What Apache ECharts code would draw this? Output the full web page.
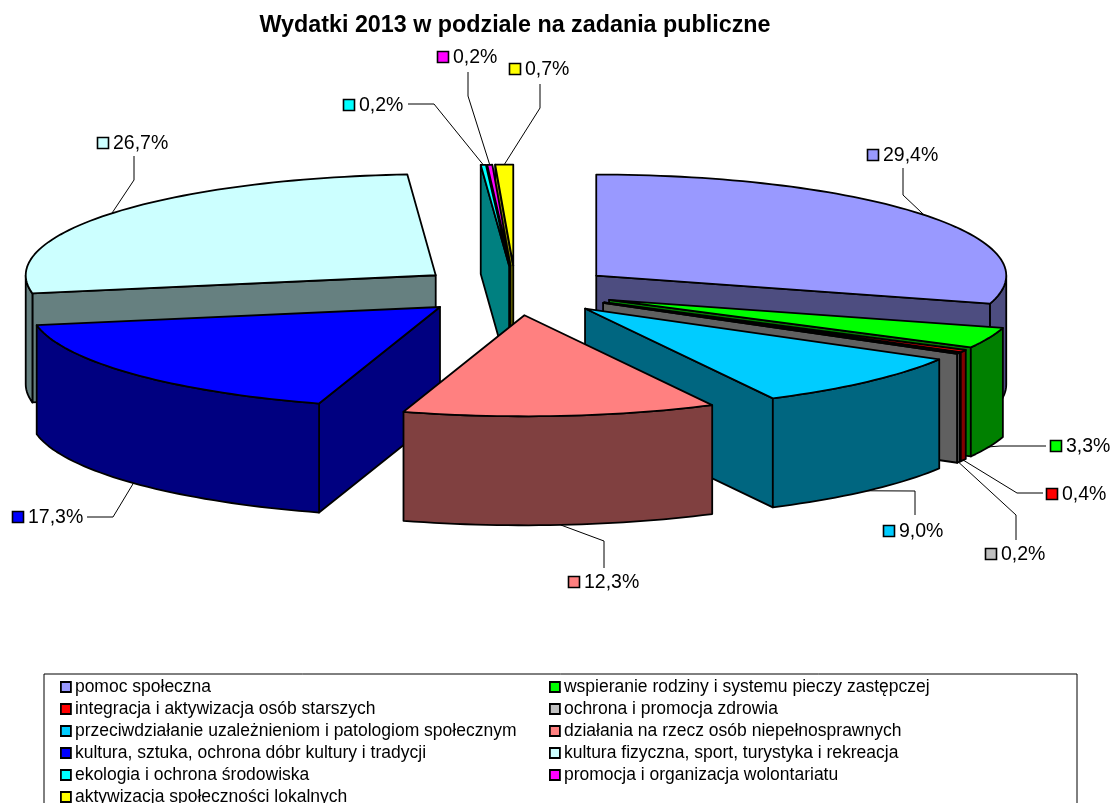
<!DOCTYPE html>
<html lang="pl">
<head>
    <meta charset="UTF-8">
    <title>Wydatki 2013</title>
    <script src="https://cdn.jsdelivr.net/npm/echarts@6/dist/echarts.min.js"></script>
    <style>
        html, body { margin: 0; padding: 0; background: #fff; overflow: hidden; }
        #chartmain { width: 1120px; height: 803px; }
    </style>
</head>
<body>
<div id="chartmain"></div>
<script>
    var chartTitle = 'Wydatki 2013 w podziale na zadania publiczne';
    var categories = [
        'pomoc społeczna',
        'wspieranie rodziny i systemu pieczy zastępczej',
        'integracja i aktywizacja osób starszych',
        'ochrona i promocja zdrowia',
        'przeciwdziałanie uzależnieniom i patologiom społecznym',
        'działania na rzecz osób niepełnosprawnych',
        'kultura, sztuka, ochrona dóbr kultury i tradycji',
        'kultura fizyczna, sport, turystyka i rekreacja',
        'ekologia i ochrona środowiska',
        'promocja i organizacja wolontariatu',
        'aktywizacja społeczności lokalnych'
    ];
    var shares = [29.4, 3.3, 0.4, 0.2, 9.0, 12.3, 17.3, 26.7, 0.2, 0.2, 0.7];
    var topColors = ['#9999FF', '#00FF00', '#FF0000', '#C0C0C0', '#00CCFF', '#FF8080', '#0000FF', '#CCFFFF', '#00FFFF', '#FF00FF', '#FFFF00'];
    var sideColors = ['#4D4D80', '#008000', '#800000', '#606060', '#006680', '#804040', '#000080', '#668080', '#008080', '#800080', '#808000'];

    // kwadrat opisu i koniec linii odniesienia, polozenie dobrane recznie
    var labelKeys = [[873, 155], [1056, 446], [1052, 494], [991, 554], [889, 531], [574, 582], [18, 517], [103, 143], [349, 105], [443, 57], [515, 69]];
    var labelElbows = [[903, 195], [1000, 446], [1017, 493], [1016, 515], [915, 491], [604, 541], [113, 517], [134, 180], [434, 104], [468, 96], [540, 108]];
    var labelEnds = [[903, 168], [1046, 446], [1043, 493], [1016, 540], [915, 515], [604, 568], [87, 517], [134, 156], [408, 104], [468, 72], [540, 84]];

    var CX = 515.5, CY = 290.5, RX = 410, RY = 101, EXPLODE = 101, DEPTH = 109;
    var SQUASH = RY / RX;
    var LINE = 1.8;

    function dirX(deg) { return Math.sin(deg * Math.PI / 180); }
    function dirY(deg) { return -Math.cos(deg * Math.PI / 180); }

    function sliceGeometry(index) {
        var before = 0;
        for (var i = 0; i < index; i++) before += shares[i];
        var total = shares.reduce(function (a, b) { return a + b; }, 0);
        var start = before / total * 360;
        var end = (before + shares[index]) / total * 360;
        var mid = (start + end) / 2;
        return {
            start: start, end: end, mid: mid,
            ax: CX + EXPLODE * dirX(mid),
            ay: CY + EXPLODE * SQUASH * dirY(mid)
        };
    }

    function rim(g, deg, drop) {
        return [g.ax + RX * dirX(deg), g.ay + RY * dirY(deg) + (drop || 0)];
    }

    function arcPoints(g, from, to, drop) {
        var pts = [];
        var steps = Math.max(2, Math.ceil(Math.abs(to - from) / 1.5));
        for (var i = 0; i <= steps; i++) {
            pts.push(rim(g, from + (to - from) * i / steps, drop));
        }
        return pts;
    }

    function poly(points, fill) {
        return {
            type: 'polygon',
            shape: { points: points },
            style: { fill: fill, stroke: '#000', lineWidth: LINE, lineJoin: 'round' }
        };
    }

    function radialFace(g, deg, fill) {
        var p = rim(g, deg);
        return poly([[g.ax, g.ay], p, [p[0], p[1] + DEPTH], [g.ax, g.ay + DEPTH]], fill);
    }

    function renderSlice(index) {
        return function () {
            var g = sliceGeometry(index);
            var children = [];
            // tylko sciany widoczne od strony patrzacego
            if (dirX(g.start) < 0) children.push(radialFace(g, g.start, sideColors[index]));
            if (dirX(g.end) > 0) children.push(radialFace(g, g.end, sideColors[index]));
            var wallFrom = Math.max(g.start, 90), wallTo = Math.min(g.end, 270);
            if (wallTo > wallFrom) {
                var wall = arcPoints(g, wallFrom, wallTo, 0).concat(arcPoints(g, wallTo, wallFrom, DEPTH));
                children.push(poly(wall, sideColors[index]));
            }
            children.push(poly([[g.ax, g.ay]].concat(arcPoints(g, g.start, g.end, 0)), topColors[index]));
            return { type: 'group', children: children };
        };
    }

    function renderLabel(params) {
        var i = params.dataIndex;
        var g = sliceGeometry(i);
        var start = rim(g, g.mid, dirY(g.mid) > 0 ? DEPTH : 0);
        var key = labelKeys[i];
        return {
            type: 'group',
            children: [
                {
                    type: 'polyline',
                    shape: { points: [start, labelElbows[i], labelEnds[i]] },
                    style: { fill: null, stroke: '#000', lineWidth: 1 }
                },
                {
                    type: 'rect',
                    shape: { x: key[0] - 5.5, y: key[1] - 5.5, width: 11, height: 11 },
                    style: { fill: topColors[i], stroke: '#000', lineWidth: 1.6 }
                },
                {
                    type: 'text',
                    style: {
                        x: key[0] + 10, y: key[1] + 1,
                        text: shares[i].toFixed(1).replace('.', ',') + '%',
                        fill: '#000',
                        font: '19.5px "Liberation Sans"',
                        textAlign: 'left',
                        textVerticalAlign: 'middle'
                    }
                }
            ]
        };
    }

    // kolejnosc rysowania: od tylnych wycinkow do przednich
    var drawOrder = categories.map(function (c, i) { return i; }).sort(function (a, b) {
        return dirY(sliceGeometry(a).mid) - dirY(sliceGeometry(b).mid);
    });

    var seriesList = drawOrder.map(function (i) {
        return {
            name: categories[i],
            type: 'custom',
            coordinateSystem: 'none',
            silent: true,
            animation: false,
            itemStyle: { color: topColors[i] },
            renderItem: renderSlice(i),
            data: [[shares[i]]]
        };
    });
    seriesList.push({
        name: 'opisy',
        type: 'custom',
        coordinateSystem: 'none',
        silent: true,
        animation: false,
        renderItem: renderLabel,
        data: shares.map(function (v) { return [v]; })
    });

    function legendColumn(left, top, indexes) {
        return {
            orient: 'vertical',
            left: left,
            top: top,
            padding: 0,
            itemGap: 0,
            itemWidth: 10,
            itemHeight: 10,
            icon: 'rect',
            selectedMode: false,
            itemStyle: { borderColor: '#000', borderWidth: 1.8 },
            textStyle: {
                fontFamily: 'Liberation Sans',
                fontSize: 17.5,
                color: '#000',
                lineHeight: 22,
                padding: [0, 0, 0, -1]
            },
            data: indexes.map(function (i) { return categories[i]; })
        };
    }

    var myChart = echarts.init(document.getElementById('chartmain'), null, { renderer: 'canvas' });
    myChart.setOption({
        animation: false,
        backgroundColor: '#fff',
        title: {
            text: chartTitle,
            left: 515,
            top: 14,
            textAlign: 'center',
            padding: 0,
            textStyle: { fontFamily: 'Liberation Sans', fontSize: 23.3, fontWeight: 'bold', color: '#000' }
        },
        legend: [
            legendColumn(60, 676, [0, 2, 4, 6, 8]),
            legendColumn(60, 786, [10]),
            legendColumn(549, 676, [1, 3, 5, 7, 9])
        ],
        graphic: [{
            type: 'rect',
            silent: true,
            shape: { x: 44, y: 674, width: 1033, height: 150 },
            style: { fill: null, stroke: '#000', lineWidth: 1 }
        }],
        series: seriesList
    });
</script>
</body>
</html>
